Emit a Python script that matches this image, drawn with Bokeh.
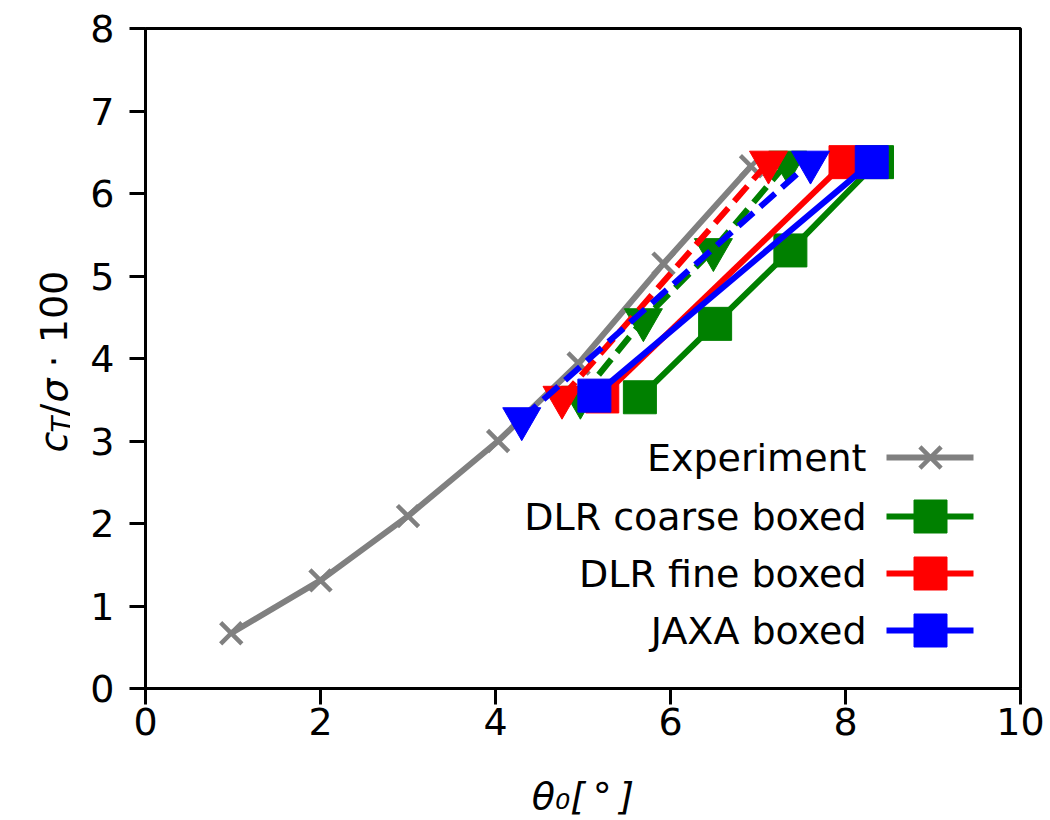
import math
from bokeh.plotting import figure
from bokeh.models import FixedTicker
from bokeh.layouts import row
from bokeh.embed import file_html
from bokeh.resources import INLINE
from bokeh.core.properties import value

# ---------------- data ----------------
x_ticks = [0, 2, 4, 6, 8, 10]
y_ticks = [0, 1, 2, 3, 4, 5, 6, 7, 8]

exp_theta = [0.98, 2.0, 3.0, 4.03, 4.95, 5.92, 6.92]
exp_ct = [0.67, 1.31, 2.09, 3.00, 3.94, 5.15, 6.33]

dlr_coarse_theta = [5.65, 6.51, 7.37, 8.36]
dlr_coarse_ct = [3.53, 4.42, 5.31, 6.38]
dlr_coarse_dash_theta = [4.97, 5.69, 6.49, 7.34]
dlr_coarse_dash_ct = [3.53, 4.47, 5.32, 6.38]

dlr_fine_theta = [5.22, 8.00]
dlr_fine_ct = [3.54, 6.38]
dlr_fine_dash_theta = [4.76, 7.12]
dlr_fine_dash_ct = [3.53, 6.38]

jaxa_theta = [5.13, 8.30]
jaxa_ct = [3.55, 6.38]
jaxa_dash_theta = [4.30, 7.60]
jaxa_dash_ct = [3.27, 6.38]

legend_labels = ["Experiment", "DLR coarse boxed", "DLR fine boxed", "JAXA boxed"]
legend_colors = ["#808080", "#008000", "#ff0000", "#0000ff"]
legend_markers = ["x", "square", "square", "square"]

x_title = "θ\u2080[\u2009°\u2009]"

# ---------------- layout ----------------
W, H = 1050, 820
YLAB_W = 70          # strip on the left holding the y-axis title
FL, FR, FT, FB = 145, 1020, 28, 688          # frame edges in page pixels
XMIN, XMAX, YMIN, YMAX = 0, 10, 0, 8
FONT = "DejaVu Sans"
FS = "38px"
FS_SUB = "26px"
LW = 6
DASH = "20 9"


def px2x(px):
    return XMIN + (px - FL) / (FR - FL) * (XMAX - XMIN)


def px2y(py):
    return YMIN + (FB - py) / (FB - FT) * (YMAX - YMIN)


PW = W - YLAB_W
p = figure(width=PW, height=H, output_backend="svg", toolbar_location=None,
           x_range=(XMIN, XMAX), y_range=(YMIN, YMAX),
           min_border_left=FL - YLAB_W, min_border_right=W - FR,
           min_border_top=FT, min_border_bottom=H - FB)
p.background_fill_color = "white"
p.border_fill_color = "white"
p.xgrid.visible = False
p.ygrid.visible = False
p.outline_line_color = "black"
p.outline_line_width = 3

for ax, ticks in ((p.xaxis[0], x_ticks), (p.yaxis[0], y_ticks)):
    ax.ticker = FixedTicker(ticks=ticks)
    ax.major_label_text_font = FONT
    ax.major_label_text_font_size = FS
    ax.major_label_text_color = "black"
    ax.axis_line_width = 3
    ax.axis_line_color = "black"
    ax.major_tick_line_width = 3
    ax.major_tick_line_color = "black"
    ax.major_tick_out = 16
    ax.major_tick_in = 0
    ax.minor_tick_line_color = None
p.xaxis[0].major_label_standoff = 3
p.yaxis[0].major_label_standoff = 15

xa = p.xaxis[0]
xa.axis_label = x_title
xa.axis_label_text_font = FONT
xa.axis_label_text_font_size = FS
xa.axis_label_text_font_style = "italic"
xa.axis_label_text_color = "black"
xa.axis_label_standoff = 36

gray, green, red, blue = legend_colors

# Experiment
p.line(exp_theta, exp_ct, line_color=gray, line_width=LW)
p.scatter(exp_theta, exp_ct, marker="x", size=30, line_color=gray, line_width=4.5)

# DLR coarse
p.line(dlr_coarse_theta, dlr_coarse_ct, line_color=green, line_width=LW)
p.scatter(dlr_coarse_theta, dlr_coarse_ct, marker="square", size=33,
          fill_color=green, line_color=green)
p.line(dlr_coarse_dash_theta, dlr_coarse_dash_ct, line_color=green, line_width=LW, line_dash=DASH)
p.scatter(dlr_coarse_dash_theta, dlr_coarse_dash_ct, marker="inverted_triangle", size=38,
          fill_color=green, line_color=green)

# DLR fine
p.line(dlr_fine_theta, dlr_fine_ct, line_color=red, line_width=LW)
p.scatter(dlr_fine_theta, dlr_fine_ct, marker="square", size=33,
          fill_color=red, line_color=red)
p.line(dlr_fine_dash_theta, dlr_fine_dash_ct, line_color=red, line_width=LW, line_dash=DASH)
p.scatter(dlr_fine_dash_theta, dlr_fine_dash_ct, marker="inverted_triangle", size=38,
          fill_color=red, line_color=red)

# JAXA
p.line(jaxa_theta, jaxa_ct, line_color=blue, line_width=LW)
p.scatter(jaxa_theta, jaxa_ct, marker="square", size=33,
          fill_color=blue, line_color=blue)
p.line(jaxa_dash_theta, jaxa_dash_ct, line_color=blue, line_width=LW, line_dash=DASH)
p.scatter(jaxa_dash_theta, jaxa_dash_ct, marker="inverted_triangle", size=38,
          fill_color=blue, line_color=blue)

# ---------------- legend (labels left of handles, no frame) ----------------
row_px = [457, 516, 573, 630]
text_right = px2x(866)
h0, h1, hm = px2x(886), px2x(973), px2x(930)
for lab, col, mk, rp in zip(legend_labels, legend_colors, legend_markers, row_px):
    yy = px2y(rp)
    p.text(x=[text_right], y=[yy], text=[lab], text_align="right", text_baseline="middle",
           text_font=value(FONT), text_font_size=FS, text_color="black")
    p.line([h0, h1], [yy, yy], line_color=col, line_width=LW)
    if mk == "x":
        p.scatter([hm], [yy], marker="x", size=30, line_color=col, line_width=4.5)
    else:
        p.scatter([hm], [yy], marker="square", size=33, fill_color=col, line_color=col)


# ---------------- left strip holding the y-axis title ----------------
# Its frame shares the main frame's vertical extent, so page pixel rows map 1:1.
fy = figure(width=YLAB_W, height=H, output_backend="svg", toolbar_location=None,
            x_range=(0, YLAB_W), y_range=(H - FB, H - FT),
            min_border_left=0, min_border_right=0,
            min_border_top=FT, min_border_bottom=H - FB,
            x_axis_location=None, y_axis_location=None)
fy.grid.visible = False
fy.outline_line_color = None
fy.background_fill_color = "white"
fy.border_fill_color = "white"


def piece(text, sx, sy, size=FS, italic=False):
    # sx, sy are page pixels (origin top-left); strip y runs upward
    fy.text(x=[sx], y=[H - sy], text=[text], angle=math.pi / 2,
            text_align="left", text_baseline="alphabetic",
            text_font=value(FONT), text_font_size=size, text_color="black",
            text_font_style="italic" if italic else "normal")


# c_T / sigma · 100 (rotated, reading upward)
piece("c", 53, 452, italic=True)
piece("T", 61, 432, size=FS_SUB, italic=True)
piece("/", 53, 416)
piece("σ", 53, 402, italic=True)
piece("\u00a0·\u00a0100", 53, 379)

layout = row(fy, p, spacing=0)
open("out.html", "w").write(file_html(layout, INLINE))
